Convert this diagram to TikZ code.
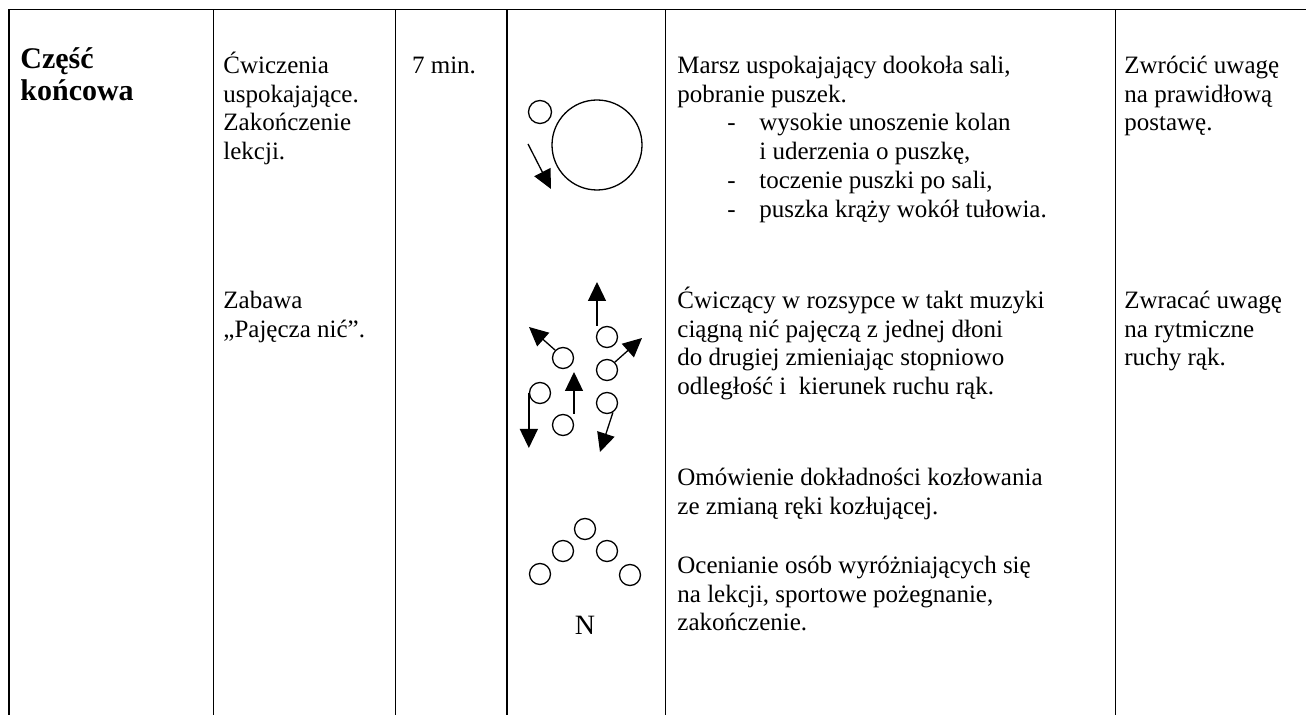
\documentclass[tikz,border=0pt]{standalone}
\usepackage{fontspec}
\setmainfont{Liberation Serif}
\usetikzlibrary{shapes,arrows.meta,positioning}

\newcommand{\tightlines}{\setlength{\lineskiplimit}{-100pt}}
\tikzstyle{cell} = [anchor=north west, inner sep=0pt, align=left, font=\fontsize{12.5}{14.4}\selectfont\tightlines]
\tikzstyle{head} = [cell, font=\fontsize{15}{16}\selectfont\bfseries\tightlines]
\tikzstyle{kid} = [circle, draw, line width=0.65pt, minimum size=10.5pt, inner sep=0pt]
\tikzstyle{move} = [draw, line width=0.65pt, -{Triangle[length=9.5pt,width=9pt]}]
\tikzstyle{gridline} = [draw, line width=0.5pt]
\tikzstyle{boldline} = [draw, line width=1pt]

\newcommand{\tp}{\rule{0pt}{1em}}
\newcommand{\dashitem}{\makebox[41pt][l]{\hspace*{25pt}-}}

\begin{document}
\begin{tikzpicture}[x=0.5pt, y=-0.5pt]
\useasboundingbox (0,0) rectangle (1306,715);

% Table lines
\draw[gridline] (8,10) -- (1306,10);
\foreach \xx in {213,395,665,1115} \draw[gridline] (\xx,10) -- (\xx,715);
\foreach \xx in {9,507} \draw[boldline] (\xx,10) -- (\xx,715);

% Place nodes
\node[head] (part) at (20,38) {\tp Część\\końcowa};
\node[cell] (task1) at (223,48) {\tp Ćwiczenia\\uspokajające.\\Zakończenie\\lekcji.};
\node[cell, anchor=north] (time) at (444,48) {\tp 7 min.};
\node[cell] (task2) at (223,283) {\tp Zabawa\\„Pajęcza nić”.};

\node[cell] (desc1) at (677,48) {\tp Marsz uspokajający dookoła sali,\\pobranie puszek.\\\dashitem wysokie unoszenie kolan\\\hspace*{41pt}i uderzenia o puszkę,\\\dashitem toczenie puszki po sali,\\\dashitem puszka krąży wokół tułowia.};
\node[cell] (desc2) at (677,283) {\tp Ćwiczący w rozsypce w takt muzyki\\ciągną nić pajęczą z jednej dłoni\\do drugiej zmieniając stopniowo\\odległość i\ \ kierunek ruchu rąk.};
\node[cell] (desc3) at (677,460) {\tp Omówienie dokładności kozłowania\\ze zmianą ręki kozłującej.};
\node[cell] (desc4) at (677,548) {\tp Ocenianie osób wyróżniających się\\na lekcji, sportowe pożegnanie,\\zakończenie.};

\node[cell] (note1) at (1124,48) {\tp Zwrócić uwagę\\na prawidłową\\postawę.};
\node[cell] (note2) at (1124,283) {\tp Zwracać uwagę\\na rytmiczne\\ruchy rąk.};

% Marsz dookola sali
\node[kid, minimum size=45pt] (hall) at (597,145) {};
\node[kid, minimum size=11.5pt] (walker) at (540,112) {};
\coordinate (walkfrom) at (528,144);
\coordinate (walkto) at (551,189);

% Pajecza nic
\node[kid] (c1) at (607,337) {};
\node[kid] (c2) at (563,358) {};
\node[kid] (c3) at (607,370) {};
\node[kid] (c4) at (540,393) {};
\node[kid] (c5) at (607,403) {};
\node[kid] (c6) at (563,425) {};
\coordinate (t1) at (597,282);
\coordinate (t2) at (529,327);
\coordinate (t3) at (642,338);
\coordinate (t4) at (574,372);
\coordinate (t5) at (529,448);
\coordinate (t6) at (600,452);

% Pozegnanie
\node[kid] (k1) at (585,529) {};
\node[kid] (k2) at (563,551) {};
\node[kid] (k3) at (607,551) {};
\node[kid] (k4) at (540,574) {};
\node[kid] (k5) at (630,575) {};
\node[anchor=base, inner sep=0pt, font=\fontsize{14}{16}\selectfont] (teacher) at (585,634) {N};

% Draw edges
\path[move] (walkfrom) -- (walkto);
\path[move] (c1.north -| t1) -- (t1);
\path[move] (c2.135) -- (t2);
\path[move] (c3.45) -- (t3);
\path[move] (c6.north -| t4) -- (t4);
\path[move] (c4.west) -- (c4.west |- t5);
\path[move] (c5.-58) -- (t6);

\end{tikzpicture}
\end{document}
